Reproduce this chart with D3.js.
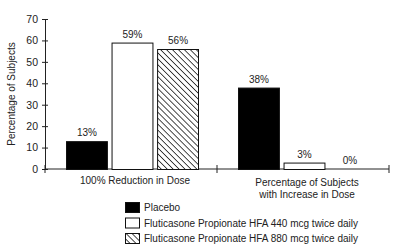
<!DOCTYPE html>
<html><head><meta charset="utf-8">
<script src="https://cdn.jsdelivr.net/npm/d3@7"></script>
<style>body{margin:0;background:#fff}svg{display:block;font-family:"Liberation Sans",Arial,sans-serif}</style>
</head><body><svg id="c" width="400" height="250"></svg>
<script>
const categories = [["100% Reduction in Dose"], ["Percentage of Subjects", "with Increase in Dose"]];
const catKeys = ["reduction", "increase"];
const series = ["Placebo", "Fluticasone Propionate HFA 440 mcg twice daily", "Fluticasone Propionate HFA 880 mcg twice daily"];
const placebo = [13, 38];
const hfa440 = [59, 3];
const hfa880 = [56, 0];
const yTicks = [0, 10, 20, 30, 40, 50, 60, 70];
const values = [placebo, hfa440, hfa880];

const svg = d3.select("#c");
const defs = svg.append("defs");
const pat = defs.append("pattern").attr("id", "hatch").attr("patternUnits", "userSpaceOnUse")
  .attr("width", 4.2).attr("height", 4.2).attr("patternTransform", "rotate(-45)");
pat.append("rect").attr("width", 4.2).attr("height", 4.2).attr("fill", "#fff");
pat.append("line").attr("x1", 0).attr("y1", 0).attr("x2", 0).attr("y2", 4.2).attr("stroke", "#000").attr("stroke-width", 1.4);

const fills = ["#000", "#fff", "url(#hatch)"];
const x0 = d3.scaleBand().domain(catKeys).range([45, 389]);
const x1 = d3.scaleBand().domain(d3.range(series.length)).range([21, 154]).paddingInner(0.08);
const y = d3.scaleLinear().domain([0, 70]).range([169, 19]);

// y axis
const ya = svg.append("g").attr("transform", "translate(45,0)")
  .call(d3.axisLeft(y).tickValues(yTicks).tickSize(3).tickPadding(4));
ya.select(".domain").attr("stroke", "#222");
ya.selectAll(".tick line").attr("stroke", "#222").attr("x1", 3);
ya.selectAll("text").attr("font-size", 10.5).attr("fill", "#222").attr("font-family", "Liberation Sans, Arial, sans-serif");

// x axis line & ticks
svg.append("line").attr("x1", 45).attr("x2", 389).attr("y1", y(0)).attr("y2", y(0)).attr("stroke", "#222");
const xtickPos = [x0.range()[0]].concat(catKeys.map(k => x0(k) + x0.bandwidth()));
svg.selectAll(".xt").data(xtickPos).enter().append("line")
  .attr("x1", d => d).attr("x2", d => d).attr("y1", y(0) - 4).attr("y2", y(0) + 4).attr("stroke", "#222");

// bars
const g = svg.selectAll(".grp").data(catKeys).enter().append("g")
  .attr("transform", k => `translate(${x0(k)},0)`);
g.each(function(k, ci) {
  const gg = d3.select(this);
  series.forEach((s, si) => {
    const v = values[si][ci];
    if (v > 0) {
      gg.append("rect").attr("x", x1(si) + 0.5).attr("y", y(v) + 0.5)
        .attr("width", x1.bandwidth() - 1).attr("height", y(0) - y(v))
        .attr("fill", fills[si]).attr("stroke", "#111").attr("stroke-width", 1);
    }
    gg.append("text").attr("x", x1(si) + x1.bandwidth() / 2).attr("y", y(v) - 5)
      .attr("text-anchor", "middle").attr("font-size", 10).attr("fill", "#222").text(v + "%");
  });
});

// category labels
categories.forEach((lines, ci) => {
  const cx = x0(catKeys[ci]) + x0.bandwidth() / 2 + 4;
  const t = svg.append("text").attr("x", cx).attr("y", ci === 0 ? 184 : 186)
    .attr("text-anchor", "middle").attr("font-size", 10).attr("fill", "#222");
  lines.forEach((l, li) => t.append("tspan").attr("x", cx).attr("dy", li === 0 ? 0 : 11.5).text(l));
});

// y title
svg.append("text").attr("transform", "translate(15,94) rotate(-90)").attr("text-anchor", "middle")
  .attr("font-size", 10).attr("fill", "#222").text("Percentage of Subjects");

// legend
const lg = svg.selectAll(".lg").data(series).enter().append("g")
  .attr("transform", (d, i) => `translate(125,${202 + i * 15.5})`);
lg.append("rect").attr("x", 0.5).attr("y", 0.5).attr("width", 14).attr("height", 10)
  .attr("fill", (d, i) => fills[i]).attr("stroke", "#111");
lg.append("text").attr("x", 19).attr("y", 9).attr("font-size", 10).attr("fill", "#222").text(d => d);
</script></body></html>
